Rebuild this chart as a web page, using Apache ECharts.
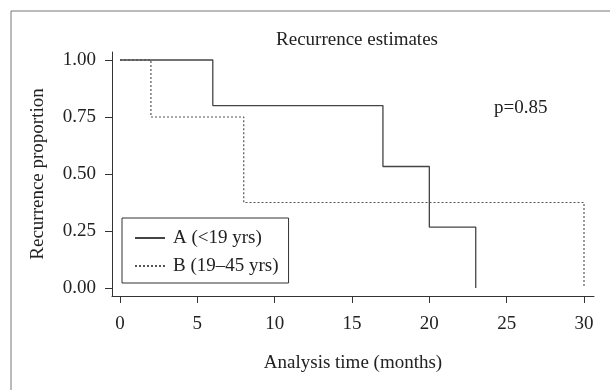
<!DOCTYPE html>
<html>
<head>
<meta charset="utf-8">
<script src="https://cdn.jsdelivr.net/npm/echarts@6/dist/echarts.min.js"></script>
<style>html,body{margin:0;padding:0;background:#fff}#c{width:610px;height:390px}</style>
</head>
<body>
<div id="c"></div>
<script>
// Data
const seriesNames = ['A (<19 yrs)', 'B (19\u201345 yrs)'];
const timesA = [0, 6, 17, 20, 23];
const valuesA = [1.00, 0.80, 0.533, 0.267, 0.00];
const timesB = [0, 2, 8, 30];
const valuesB = [1.00, 0.75, 0.375, 0.00];
const xTicks = [0, 5, 10, 15, 20, 25, 30];
const yTicks = [0, 0.25, 0.5, 0.75, 1.0];
const titleText = 'Recurrence estimates';
const pText = 'p=0.85';
const xTitle = 'Analysis time (months)';
const yTitle = 'Recurrence proportion';

const FONT = '"Liberation Serif", "DejaVu Serif", serif';
const FS = 19;
const AX = '#333';

const chart = echarts.init(document.getElementById('c'), null, {renderer: 'canvas'});
const pairs = (xs, ys) => xs.map((x, i) => [x, ys[i]]);

chart.setOption({
  animation: false,
  backgroundColor: '#fff',
  textStyle: {fontFamily: FONT},
  title: [
    {text: titleText, left: 352, top: 26, textAlign: 'center',
     textStyle: {fontFamily: FONT, fontSize: FS, fontWeight: 'normal', color: '#222'}},
    {text: pText, left: 489, top: 94,
     textStyle: {fontFamily: FONT, fontSize: FS, fontWeight: 'normal', color: '#222'}}
  ],
  graphic: [{
    type: 'rect', shape: {x: 11, y: 11, width: 700, height: 500},
    style: {fill: 'none', stroke: '#777', lineWidth: 1}, z: -1
  }],
  grid: {left: 112, right: 16, top: 52, bottom: 94, containLabel: false},
  legend: {
    orient: 'vertical', left: 122, top: 218,
    padding: [10, 10, 7, 12],
    backgroundColor: '#fff', borderColor: '#333', borderWidth: 1, borderRadius: 0,
    itemWidth: 30, itemHeight: 14, itemGap: 8,
    itemStyle: {opacity: 0},
    textStyle: {fontFamily: FONT, fontSize: FS, color: '#222', lineHeight: 20, padding: [0, 0, 0, 3]},
    data: seriesNames
  },
  xAxis: {
    type: 'value', min: -8 / (464 / 30), max: 30 + 10 / (464 / 30),
    name: xTitle, nameLocation: 'middle', nameGap: 58,
    nameTextStyle: {fontFamily: FONT, fontSize: FS, color: '#222'},
    axisLine: {onZero: false, lineStyle: {color: AX, width: 1}},
    axisTick: {show: true, length: 7, customValues: xTicks, lineStyle: {color: AX}},
    axisLabel: {customValues: xTicks, margin: 19, fontFamily: FONT, fontSize: FS, color: '#222'},
    splitLine: {show: false}
  },
  yAxis: {
    type: 'value', min: -8 / 228, max: 1 + 8 / 228,
    name: yTitle, nameLocation: 'middle', nameGap: 64, nameRotate: 90,
    nameTextStyle: {fontFamily: FONT, fontSize: FS, color: '#222'},
    axisLine: {show: true, onZero: false, lineStyle: {color: AX, width: 1}},
    axisTick: {show: true, length: 7, customValues: yTicks, lineStyle: {color: AX}},
    axisLabel: {customValues: yTicks, margin: 16, fontFamily: FONT, fontSize: FS, color: '#222',
      formatter: v => v.toFixed(2)},
    splitLine: {show: false}
  },
  series: [
    {name: seriesNames[1], type: 'line', step: 'end', symbol: 'none', z: 2,
     data: pairs(timesB, valuesB),
     lineStyle: {color: '#555', width: 1.2, type: [2, 2]}, itemStyle: {color: '#555'}},
    {name: seriesNames[0], type: 'line', step: 'end', symbol: 'none', z: 3,
     data: pairs(timesA, valuesA),
     lineStyle: {color: '#444', width: 1.3, type: 'solid'}, itemStyle: {color: '#444'}}
  ]
});
</script>
</body>
</html>
